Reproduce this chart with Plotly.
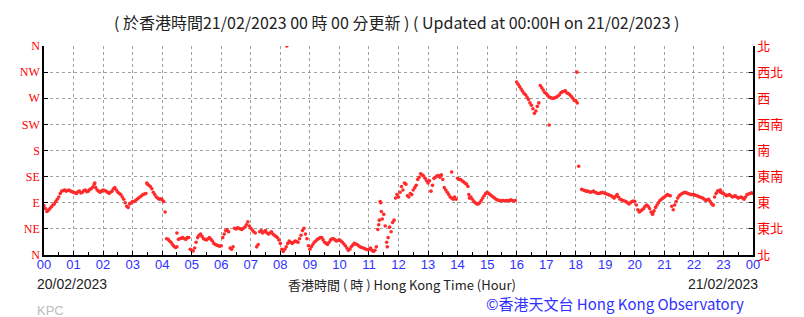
import plotly.graph_objects as go

# Wind direction (degrees) on 20/02/2023.
# hXX : readings at XX.0, XX.1 ... XX.9 h ; bXX : readings at XX.05, XX.15 ... XX.95 h
hour_labels = ["00", "01", "02", "03", "04", "05", "06", "07", "08", "09", "10", "11",
               "12", "13", "14", "15", "16", "17", "18", "19", "20", "21", "22", "23", "00"]
dir_labels_en = ["N", "NE", "E", "SE", "S", "SW", "W", "NW", "N"]
dir_labels_zh = ["北", "東北", "東", "東南", "南", "西南", "西", "西北", "北"]
dir_ticks = [0, 45, 90, 135, 180, 225, 270, 315, 360]

h00 = [85, 75, 80, 86, 92, 100, 110, 112, 111, 110]
h01 = [108, 106, 110, 108, 112, 110, 114, 122, 112, 108]
h02 = [112, 110, 106, 110, 116, 108, 104, 96, 84, 88]
h03 = [92, 94, 98, 102, 105, 122, 118, 108, 100, 96]
h04 = [95, 74, 27, 22, 15, 14, 28, 30, 27, 30]
h05 = [8, 12, 30, 36, 28, 26, 30, 24, 18, 16]
h06 = [16, 36, 44, 12, 14, 45, 46, 44, 48, 57]
h07 = [46, 40, 14, 40, 38, 42, 36, 40, 34, 30]
h08 = [20, 6, 14, 24, 20, 24, 22, 34, 46, 28]
h09 = [10, 18, 24, 28, 30, 22, 18, 26, 28, 24]
h10 = [26, 22, 16, 8, 14, 20, 18, 14, 12, 10]
h11 = [10, 8, 8, 44, 90, 70, 22, 48, 56, 98]
h12 = [100, 118, 124, 102, 106, 112, 120, 134, 138, 132]
h13 = [124, 110, 132, 136, 134, 130, 112, 104, 98, 100]
h14 = [132, 130, 126, 122, 98, 96, 90, 88, 94, 102]
h15 = [108, 104, 100, 96, 94, 94, 93, 94, 95, 93]
h16 = [298, 290, 282, 276, 268, 258, 244, 256, 292, 284]
h17 = [278, 272, 270, 271, 274, 280, 282, 279, 276, 270]
h18 = [266, 153, 113, 111, 110, 108, 110, 107, 106, 108]
h19 = [106, 104, 102, 98, 104, 96, 94, 92, 88, 92]
h20 = [92, 78, 76, 80, 86, 80, 72, 82, 90, 96]
h21 = [100, 104, 102, 78, 92, 102, 106, 108, 106, 104]
h22 = [104, 102, 100, 98, 94, 96, 88, 100, 110, 108]
h23 = [106, 102, 104, 100, 102, 98, 100, 96, 104, 106]
h24 = [106]

b00 = [80, 77, 83, 88, 96, 106, 111, 110, 112, 109]
b01 = [107, 109, 107, 111, 109, 113, 117, 116, 110, 110]
b02 = [111, 108, 108, 114, 112, 106, 100, 90, 82, 90]
b03 = [92, 96, 100, 104, 106, 120, 114, 104, 98, 97]
b04 = [92, 28, 24, 18, 13, 27, 29, 28, 30, 10]
b05 = [7, 22, 34, 32, 27, 28, 27, 20, 17, 15]
b06 = [30, 42, 40, 10, 46, 47, 45, 46, 52, 50]
b07 = [43, 38, 18, 42, 40, 38, 38, 36, 32, 26]
b08 = [10, 10, 20, 22, 22, 23, 28, 42, 36, 16]
b09 = [14, 22, 27, 30, 26, 20, 22, 28, 26, 25]
b10 = [24, 19, 12, 10, 17, 19, 16, 13, 11, 9]
b11 = [12, 6, 14, 60, 62, 50, 30, 40, 60, 104]
b12 = [108, 112, 122, 100, 104, 116, 130, 140, 136, 128]
b13 = [128, 120, 134, 137, 138, 116, 108, 100, 96, 96]
b14 = [130, 128, 124, 118, 100, 92, 88, 90, 98, 106]
b15 = [106, 102, 98, 95, 93, 94, 94, 93, 94, 94]
b16 = [294, 286, 278, 272, 262, 252, 248, 262, 288, 280]
b17 = [275, 271, 270, 272, 276, 281, 283, 278, 273, 266]
b18 = [262, None, 112, 110, 109, 109, 108, 106, 107, 107]
b19 = [105, 103, 100, 101, 100, 95, 93, 90, 90, 93]
b20 = [86, 74, 78, 84, 84, 74, 76, 86, 94, 98]
b21 = [102, 103, 84, 86, 98, 104, 107, 107, 105, 104]
b22 = [103, 101, 99, 96, 95, 92, 86, 106, 111, 107]
b23 = [104, 103, 102, 101, 100, 99, 98, 100, 105, 107]

# isolated readings (time in hours, direction in degrees)
extra_t = [1.72, 3.48, 4.5, 8.22, 11.33, 11.38, 11.42, 11.62, 13.8, 14.38, 17.1, 18.04, 20.6, 22.65, 22.9]
extra_d = [124, 124, 38, 360, 52, 92, 75, 14, 143, 104, 224, 315, 70, 86, 112]

hourly = [h00, h01, h02, h03, h04, h05, h06, h07, h08, h09, h10, h11,
          h12, h13, h14, h15, h16, h17, h18, h19, h20, h21, h22, h23, h24]
halfway = [b00, b01, b02, b03, b04, b05, b06, b07, b08, b09, b10, b11,
           b12, b13, b14, b15, b16, b17, b18, b19, b20, b21, b22, b23]

times, dirs = [], []
for h, vals in enumerate(hourly):
    for k, v in enumerate(vals):
        times.append(h + k / 10)
        dirs.append(v)
for h, vals in enumerate(halfway):
    for k, v in enumerate(vals):
        times.append(h + 0.05 + k / 10)
        dirs.append(v)
times += extra_t
dirs += extra_d

RED = "#ff2a2a"
BLUE = "#3030ff"
GRID = "#a0a0a0"

fig = go.Figure()
fig.add_trace(go.Scatter(x=times, y=dirs, mode="markers",
                         marker=dict(color=RED, size=3.6, line=dict(width=0)),
                         hoverinfo="skip", showlegend=False))
fig.add_trace(go.Scatter(x=[0], y=[0], yaxis="y2", mode="markers",
                         marker=dict(size=1, opacity=0), hoverinfo="skip", showlegend=False))

W, H = 804, 317
L, R, T, B = 44, 51, 46, 62
pw, ph = W - L - R, H - T - B


def px(xp):
    return (xp - L) / pw


def py(yp):
    return (H - B - yp) / ph


fig.update_layout(
    width=W, height=H, autosize=False,
    margin=dict(l=L, r=R, t=T, b=B, pad=0),
    paper_bgcolor="white", plot_bgcolor="white",
    xaxis=dict(range=[0, 24], tickvals=list(range(25)), ticktext=hour_labels,
               tickfont=dict(family="Liberation Sans, Arial", size=13, color=BLUE),
               ticklabelstandoff=-3,
               showgrid=True, gridcolor=GRID, griddash="dot", gridwidth=1,
               showline=True, linecolor="black", linewidth=1.5,
               ticks="inside", ticklen=4, tickcolor="black",
               minor=dict(dtick=0.5, tick0=0, ticks="inside", ticklen=3, tickcolor="black", showgrid=False),
               zeroline=False, fixedrange=True),
    yaxis=dict(range=[0, 360], tickvals=dir_ticks, ticktext=dir_labels_en,
               tickfont=dict(family="Liberation Serif, Times New Roman", size=12, color="#ff0000"),
               showgrid=True, gridcolor=GRID, griddash="dot", gridwidth=1,
               showline=True, linecolor="black", linewidth=1.5,
               ticks="inside", ticklen=4, tickcolor="black",
               zeroline=False, fixedrange=True),
    yaxis2=dict(range=[0, 360], overlaying="y", side="right", tickvals=dir_ticks, ticktext=dir_labels_zh,
                tickfont=dict(family="Noto Sans CJK TC", size=13, color="#ff0000"),
                showgrid=False, showline=True, linecolor="black", linewidth=1.5,
                ticks="inside", ticklen=4, tickcolor="black",
                zeroline=False, fixedrange=True),
    annotations=[
        dict(text="( 於香港時間21/02/2023 00 時 00 分更新 ) ( Updated at 00:00H on 21/02/2023 )",
             x=px(397), y=py(22), xref="paper", yref="paper", showarrow=False,
             xanchor="center", yanchor="middle",
             font=dict(family="Noto Sans CJK TC, Liberation Sans", size=16, color="#222222")),
        dict(text="20/02/2023", x=px(35), y=py(284), xref="paper", yref="paper", showarrow=False,
             xanchor="left", yanchor="middle",
             font=dict(family="Liberation Sans, Arial", size=14, color="#222222")),
        dict(text="香港時間 ( 時 ) Hong Kong Time (Hour)", x=px(402), y=py(284), xref="paper", yref="paper",
             showarrow=False, xanchor="center", yanchor="middle",
             font=dict(family="Noto Sans CJK TC, Liberation Sans", size=13, color="#222222")),
        dict(text="21/02/2023", x=px(760), y=py(284), xref="paper", yref="paper", showarrow=False,
             xanchor="right", yanchor="middle",
             font=dict(family="Liberation Sans, Arial", size=14, color="#222222")),
        dict(text="©香港天文台 Hong Kong Observatory", x=px(746), y=py(303), xref="paper", yref="paper",
             showarrow=False, xanchor="right", yanchor="middle",
             font=dict(family="Noto Sans CJK TC, Liberation Sans", size=15, color=BLUE)),
        dict(text="KPC", x=px(35), y=py(310), xref="paper", yref="paper", showarrow=False,
             xanchor="left", yanchor="middle",
             font=dict(family="Liberation Sans, Arial", size=13, color="#bbbbbb")),
    ],
)

fig.write_html("out.html")
